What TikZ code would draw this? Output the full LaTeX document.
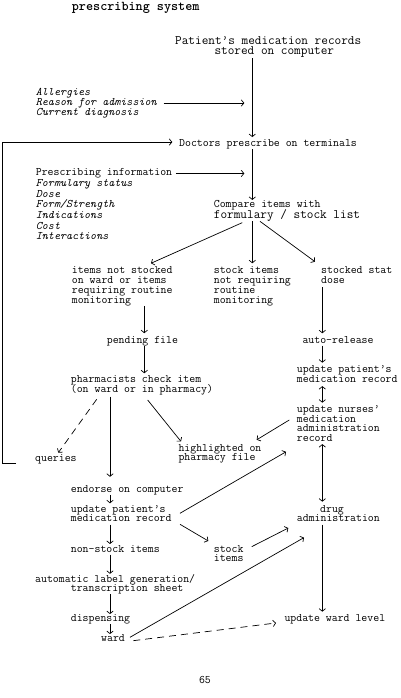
\documentclass[tikz,border=0pt]{standalone}
\usetikzlibrary{arrows.meta}
\newcommand\bodyfnt{\ttfamily\fontsize{11.5}{10.2}\selectfont}
\newcommand\bigfnt{\ttfamily\fontsize{12.9}{10.7}\selectfont}
\newcommand\ml[2][10.2pt]{\vtop{\baselineskip=#1\relax\lineskiplimit=-\maxdimen\lineskip=0pt\halign{\vrule height 7.0pt depth 2.5pt width 0pt##\hfil\cr#2\crcr}}}
\tikzset{
  txt/.style={anchor=base west, inner sep=0pt, font=\bodyfnt, text=black},
  tip/.tip={Straight Barb[length=2.6pt,width=6.4pt]},
  arr/.style={-tip, line width=0.7pt},
  darr/.style={tip-tip, line width=0.7pt},
  dsh/.style={dash pattern=on 7pt off 5pt},
}
\begin{document}
\begin{tikzpicture}[x=1pt,y=-1pt]
\useasboundingbox (0,0) rectangle (401,698);
% ---------- texts ----------
\node[anchor=base west, inner sep=0pt, font=\ttfamily\bfseries\fontsize{13.5}{14}\selectfont] (title) at (71.7,10.5) {prescribing system};
\node[txt, font=\bigfnt] (records) at (175,44.3) {\ml[10.7pt]{Patient’s medication records\cr\kern39.3pt stored on computer}};
\node[txt, font=\bodyfnt\itshape] (allergy) at (35.7,95.3) {\ml[10pt]{Allergies\cr Reason for admission\cr Current diagnosis}};
\node[txt] (doctors) at (179,146.3) {\ml{Doctors prescribe on terminals}};
\node[txt] (presc) at (35.7,175.7) {\ml{Prescribing information}};
\node[txt, font=\bodyfnt\itshape] (formlist) at (35.7,186.3) {\ml[10.7pt]{Formulary status\cr Dose\cr Form/Strength\cr Indications\cr Cost\cr Interactions}};
\node[txt] (compare) at (213.7,207.3) {\ml[10.7pt]{Compare items with\cr{\bigfnt formulary / stock list}}};
\node[txt] (notstock) at (71.7,273) {\ml[10pt]{items not stocked\cr on ward or items\cr requiring routine\cr monitoring}};
\node[txt] (stockitems) at (213.7,273) {\ml[10pt]{stock items\cr not requiring\cr routine\cr monitoring}};
\node[txt] (stat) at (321,273) {\ml[10pt]{stocked stat\cr dose}};
\node[txt] (pending) at (106.7,343) {\ml{pending file}};
\node[txt] (pharm) at (70.7,382.3) {\ml[10pt]{pharmacists check item\cr(on ward or in pharmacy)}};
\node[txt] (queries) at (35,461.3) {\ml{queries}};
\node[txt] (highlighted) at (178.3,451.1) {\ml[9.6pt]{highlighted on\cr pharmacy file}};
\node[txt] (endorse) at (70.7,492) {\ml{endorse on computer}};
\node[txt] (updpat1) at (70.7,512.3) {\ml[9.6pt]{update patient’s\cr medication record}};
\node[txt] (nonstock) at (70.7,552) {\ml{non-stock items}};
\node[txt] (autolabel) at (35,582) {\ml[9.6pt]{automatic label generation/\cr\kern35.7pt transcription sheet}};
\node[txt] (dispensing) at (70.7,621.3) {\ml{dispensing}};
\node[txt] (ward) at (101,641.3) {\ml{ward}};
\node[txt] (stockitems2) at (213.7,552) {\ml[9.6pt]{stock\cr items}};
\node[txt] (autorel) at (302.3,343) {\ml{auto-release}};
\node[txt] (updpat2) at (296.7,372.3) {\ml[10pt]{update patient’s\cr medication record}};
\node[txt] (nurses) at (296.7,412.3) {\ml[9.7pt]{update nurses’\cr medication\cr administration\cr record}};
\node[txt] (drug) at (296.7,512.3) {\ml[9.6pt]{\kern23.3pt drug\cr administration}};
\node[txt] (wardlevel) at (284.3,621.3) {\ml{update ward level}};
\node[anchor=base, inner sep=0pt, font=\ttfamily\fontsize{11.5}{12}\selectfont] (pagenum) at (205,683) {65};
% ---------- columns ----------
\coordinate (spine) at (252.3,0);
\coordinate (pcol) at (144.3,0);
\coordinate (lcol) at (110,0);
\coordinate (rcol) at (322.3,0);
\coordinate (loopx) at (2,0);
\coordinate (loopin) at ([shift={(-6.7pt,2pt)}]doctors.west);
% ---------- connectors ----------
\draw[arr, shorten >=2pt] (records.south -| spine) -- (doctors.north -| spine);
\draw[arr, shorten >=8pt] ([xshift=6.7pt]allergy.east) -- (allergy.east -| spine);
\draw[arr] ([shift={(-19pt,-4pt)}]queries.west) -| (loopx |- loopin) -- (loopin);
\draw[arr, shorten >=8pt] ([xshift=3.5pt]presc.east) -- (presc.east -| spine);
\draw[arr] (doctors.south -| spine) -- (compare.north -| spine);
\draw[arr] ([shift={(28.6pt,-1.5pt)}]compare.south west) -- ([shift={(79.3pt,2.5pt)}]notstock.north west);
\draw[arr, shorten >=2.5pt] (compare.south -| spine) -- (stockitems.north -| spine);
\draw[arr] ([shift={(46.3pt,-0.2pt)}]compare.south west) -- ([shift={(-6pt,4.1pt)}]stat.north west);
\draw[arr, shorten >=2.5pt] (notstock.south -| pcol) -- (pending.north -| pcol);
\draw[arr, shorten >=1.8pt] (pending.south -| pcol) -- (pharm.north -| pcol);
\draw[arr, dsh] ([shift={(26pt,-4.2pt)}]pharm.south west) -- ([shift={(23.3pt,1.4pt)}]queries.north west);
\draw[arr, shorten <=1.6pt, shorten >=8pt] (pharm.south -| lcol) -- (endorse.north -| lcol);
\draw[arr] ([shift={(77pt,-4.9pt)}]pharm.south west) -- ([shift={(2.7pt,2.4pt)}]highlighted.north west);
\draw[arr, shorten <=1.4pt, shorten >=2.5pt] (stat.south -| rcol) -- (autorel.north -| rcol);
\draw[arr, shorten >=2.4pt] (autorel.south -| rcol) -- (updpat2.north -| rcol);
\draw[darr, shorten <=1.1pt, shorten >=2.4pt] (updpat2.south -| rcol) -- (nurses.north -| rcol);
\draw[arr] ([shift={(-7.4pt,-14.9pt)}]nurses.north west) -- ([shift={(78.4pt,4.1pt)}]highlighted.north west);
\draw[darr, shorten >=3.4pt] (nurses.south -| rcol) -- (drug.north -| rcol);
\draw[arr] ([shift={(109.3pt,-8.2pt)}]updpat1.north west) -- ([shift={(-10.7pt,-7.7pt)}]nurses.south west);
\draw[arr, shorten >=1.8pt] (endorse.south -| lcol) -- (updpat1.north -| lcol);
\draw[arr, shorten >=0.8pt] (updpat1.south -| lcol) -- (nonstock.north -| lcol);
\draw[arr] ([shift={(109.3pt,0.3pt)}]updpat1.south west) -- ([shift={(-5.4pt,3.8pt)}]stockitems2.north west);
\draw[arr] ([shift={(38pt,-1.9pt)}]stockitems2.north west) -- ([shift={(-8.4pt,-3.4pt)}]drug.south west);
\draw[arr] (nonstock.south -| lcol) -- (autolabel.north -| lcol);
\draw[arr] (autolabel.south -| lcol) -- (dispensing.north -| lcol);
\draw[arr] (dispensing.south -| lcol) -- (ward.north -| lcol);
\draw[arr] ([shift={(29pt,-3.2pt)}]ward.north west) -- ([shift={(7.3pt,-13pt)}]drug.south west);
\draw[arr, dsh] ([shift={(32.3pt,-6.6pt)}]ward.north west) -- ([shift={(-8.3pt,-8.9pt)}]wardlevel.north west);
\draw[arr, shorten >=2.4pt] (drug.south -| rcol) -- (wardlevel.north -| rcol);
\end{tikzpicture}
\end{document}
